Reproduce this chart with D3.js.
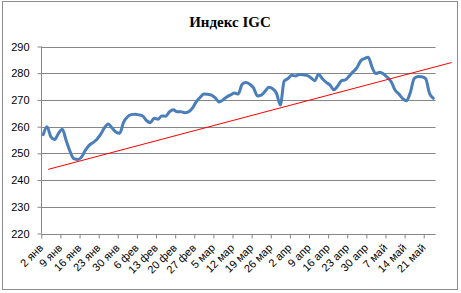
<!DOCTYPE html>
<html><head><meta charset="utf-8">
<script src="https://cdn.jsdelivr.net/npm/d3@7"></script>
<style>
html,body{margin:0;padding:0;background:#fff;}
svg{display:block;}
</style></head>
<body>
<script>
const title = "Индекс IGC";
const weekLabels = ["2 янв","9 янв","16 янв","23 янв","30 янв","6 фев","13 фев","20 фев","27 фев","5 мар","12 мар","19 мар","26 мар","2 апр","9 апр","16 апр","23 апр","30 апр","7 май","14 май","21 май"];
const yTicks = [220,230,240,250,260,270,280,290];
const igcValues = [
 257,260,256.2,255.2,257.5,259,254.8,250.8,248,247.7,
 248.6,251.1,253,254,255.2,257.1,259.5,261,259.5,258,
 257.5,261.6,263.6,264.5,264.6,264.4,264,262.3,261.5,263.1,
 262.8,264,263.9,265.5,266.3,265.6,265.6,265.2,265.5,266.9,
 269.3,270.9,272.2,272.1,271.8,270.8,269.2,270,271.1,271.9,
 272.6,272.2,275.8,276.5,275.9,274.5,271.5,271.8,273.2,274.7,
 274.2,272.5,268.1,277,278,279.2,279,279.5,279.4,279.2,
 278.3,277.2,279.6,277.9,276.6,275.6,273.8,275.2,277.2,277.5,
 278.9,280.5,282,284.6,285.5,286,282.2,279.9,280.4,279.7,
 278.4,276.8,273.7,272.2,270.5,269.7,272.8,278,278.8,278.7,
 278,272.5,270.6
];
const trendIndex = [1.3, 106.8];
const trendValue = [244.0, 284.0];

const W = 461, H = 293;
const svg = d3.select("body").append("svg").attr("width", W).attr("height", H);

svg.append("rect").attr("x",2.5).attr("y",1.5).attr("width",455).attr("height",288)
  .attr("fill","#fff").attr("stroke","#8c8c8c").attr("stroke-width",1);

const x = d3.scaleLinear().domain([0, igcValues.length]).range([41.3, 435.2]);
const y = d3.scaleLinear().domain([220, 290]).range([233.5, 46.5]);

// gridlines
svg.append("g").selectAll("line").data(yTicks).join("line")
  .attr("x1", 41).attr("x2", 435.5)
  .attr("y1", d => Math.round(y(d)) + 0.5).attr("y2", d => Math.round(y(d)) + 0.5)
  .attr("stroke", "#868686").attr("stroke-width", 1);

// y axis
const yAxis = d3.axisLeft(y).tickValues(yTicks).tickSize(4).tickPadding(8).tickFormat(d3.format("d"));
const gy = svg.append("g").attr("transform", "translate(41.5,0)").call(yAxis);
gy.select(".domain").attr("stroke", "#868686").attr("d", `M0,${y(290)}V${y(220)}`);
gy.selectAll(".tick line").attr("stroke", "#868686");
gy.selectAll(".tick text").attr("font-family", "Liberation Sans, Arial, sans-serif").attr("font-size", 11).attr("fill", "#000");

// x axis
const tickIdx = weekLabels.map((d, i) => i * 5);
const xAxis = d3.axisBottom(x).tickValues(tickIdx).tickSize(4).tickFormat((d, i) => weekLabels[i]);
const gx = svg.append("g").attr("transform", `translate(0,${Math.round(y(220)) + 0.5})`).call(xAxis);
gx.select(".domain").attr("stroke", "#868686").attr("d", `M${x(0)},0H${x(igcValues.length)}`);
gx.selectAll(".tick line").attr("stroke", "#868686");
gx.selectAll(".tick text")
  .attr("font-family", "Liberation Sans, Arial, sans-serif").attr("font-size", 11).attr("fill", "#000")
  .attr("text-anchor", "end").attr("dy", null).attr("y", 0)
  .attr("transform", "translate(2,14) rotate(-45)");

// data line
const line = d3.line().x((d, i) => x(i + 0.5)).y(d => y(d)).curve(d3.curveMonotoneX);
svg.append("path").datum(igcValues).attr("d", line)
  .attr("fill", "none").attr("stroke", "#4a7ebb").attr("stroke-width", 3)
  .attr("stroke-linejoin", "round").attr("stroke-linecap", "round");

// trend line
svg.append("line")
  .attr("x1", x(trendIndex[0] + 0.5)).attr("y1", y(trendValue[0]))
  .attr("x2", x(trendIndex[1] + 0.5)).attr("y2", y(trendValue[1]))
  .attr("stroke", "#ff0000").attr("stroke-width", 1);

// title
svg.append("text").attr("x", 230).attr("y", 27).attr("text-anchor", "middle")
  .attr("font-family", "Liberation Serif, Times New Roman, serif").attr("font-weight", "bold")
  .attr("font-size", 15).text(title);
</script>
</body></html>
